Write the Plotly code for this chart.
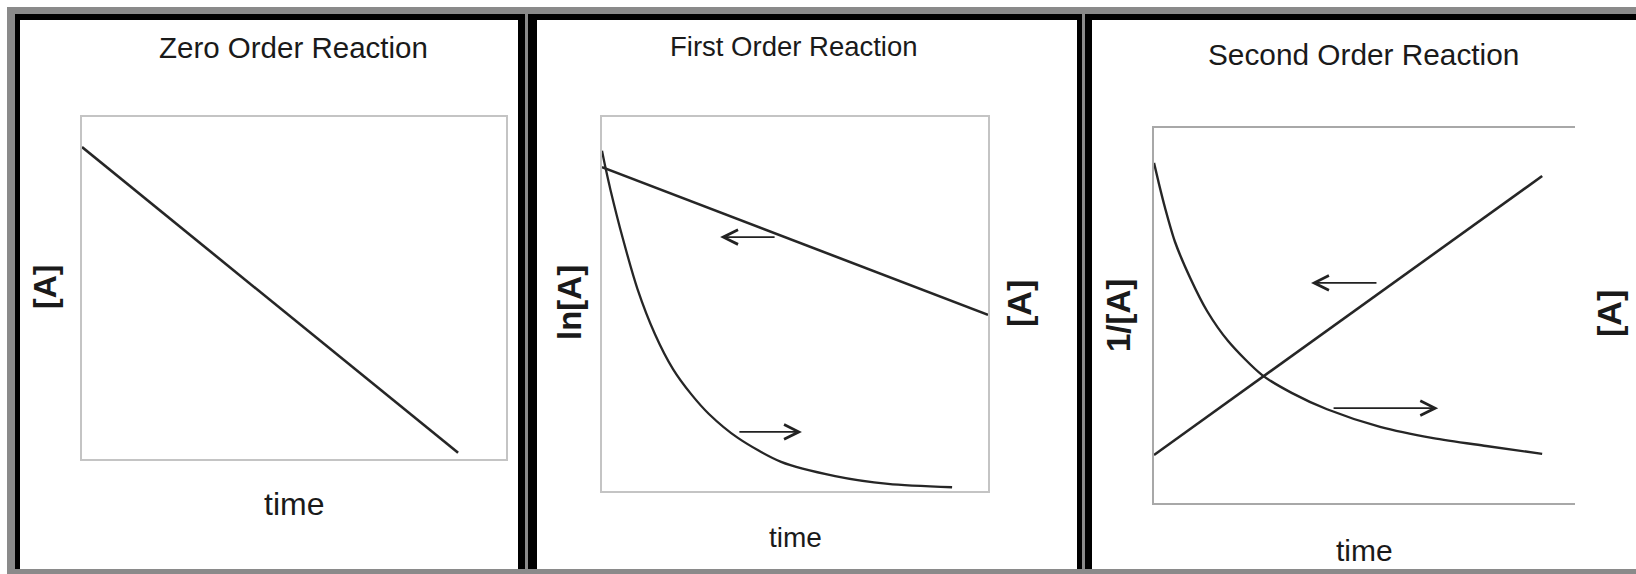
import plotly.graph_objects as go

W, H = 1636, 574

# ---------------- data ----------------
# Zero order: [A] vs time (straight line)
zero_time = [0.0, 8.87]
zero_conc = [9.12, 0.18]

# First order: ln[A] vs time (straight line) and [A] vs time (exponential decay)
first_ln_time = [0.0, 10.0]
first_ln_vals = [8.66, 4.71]
first_conc_time = [0.0, 0.1, 0.22, 0.54, 0.92, 1.37, 1.84, 2.31, 2.77, 3.52, 4.64, 6.04, 7.41, 9.07]
first_conc_vals = [9.10, 8.60, 8.05, 6.75, 5.40, 4.20, 3.26, 2.59, 2.06, 1.42, 0.78, 0.40, 0.19, 0.10]

# Second order: 1/[A] vs time (straight line) and [A] vs time (hyperbolic decay)
second_inv_time = [0.0, 9.22]
second_inv_vals = [1.28, 8.72]
second_conc_time = [0.0, 0.12, 0.26, 0.50, 0.86, 1.26, 1.76, 2.57, 3.28, 4.11, 5.37, 6.63, 7.89, 9.22]
second_conc_vals = [9.07, 8.50, 7.88, 6.96, 6.00, 5.12, 4.32, 3.41, 2.93, 2.50, 2.03, 1.73, 1.52, 1.31]

titles = ["Zero Order Reaction", "First Order Reaction", "Second Order Reaction"]
x_label = "time"
left_labels = ["[A]", "ln[A]", "1/[A]"]
right_labels = [None, "[A]", "[A]"]

FONT = "Liberation Sans, Arial, sans-serif"
INK = "#1a1a1a"
LINE = "#262626"


def X(px):
    return px / W


def Y(py):
    return 1 - py / H


fig = go.Figure()

line_style = dict(color=LINE, width=2.6)
fig.add_trace(go.Scatter(x=zero_time, y=zero_conc, mode="lines", line=line_style,
                         xaxis="x", yaxis="y", showlegend=False, hoverinfo="skip"))
fig.add_trace(go.Scatter(x=first_ln_time, y=first_ln_vals, mode="lines", line=line_style,
                         xaxis="x2", yaxis="y2", showlegend=False, hoverinfo="skip"))
fig.add_trace(go.Scatter(x=first_conc_time, y=first_conc_vals, mode="lines",
                         line=dict(color=LINE, width=2.3, shape="spline", smoothing=0.8),
                         xaxis="x2", yaxis="y2", showlegend=False, hoverinfo="skip"))
fig.add_trace(go.Scatter(x=second_inv_time, y=second_inv_vals, mode="lines", line=line_style,
                         xaxis="x3", yaxis="y3", showlegend=False, hoverinfo="skip"))
fig.add_trace(go.Scatter(x=second_conc_time, y=second_conc_vals, mode="lines",
                         line=dict(color=LINE, width=2.4, shape="spline", smoothing=0.8),
                         xaxis="x3", yaxis="y3", showlegend=False, hoverinfo="skip"))

# plot boxes (pixel positions of the frames)
boxes = [
    (82, 506, 117, 459),
    (602, 988, 117, 491),
    (1154, 1575, 128, 503),
]

def ax_common(color):
    return dict(range=[0, 10], showgrid=False, zeroline=False, showticklabels=False,
                ticks="", showline=True, linecolor=color, linewidth=2, fixedrange=True)

layout_axes = {}
for i, (x0, x1, y0, y1) in enumerate(boxes):
    sfx = "" if i == 0 else str(i + 1)
    color = "#c4c4c4" if i < 2 else "#a8a8a8"
    xa = ax_common(color)
    ya = ax_common(color)
    xa.update(domain=[X(x0), X(x1)], anchor="y" + sfx, mirror=True)
    ya.update(domain=[Y(y1), Y(y0)], anchor="x" + sfx, mirror=(i < 2))
    layout_axes["xaxis" + sfx] = xa
    layout_axes["yaxis" + sfx] = ya

fig.update_layout(**layout_axes)

# ---------------- frames ----------------
shapes = []
def rect(x0, y0, x1, y1, color):
    shapes.append(dict(type="rect", xref="paper", yref="paper",
                       x0=X(x0), x1=X(x1), y0=Y(y1), y1=Y(y0),
                       fillcolor=color, line=dict(width=0), layer="below"))

rect(7, 7, 1700, 620, "#8a8a8a")
panels = [(15, 525, 20, 518), (528, 1082, 537, 1077), (1085, 1700, 1092, 1700)]
for bx0, bx1, ix0, ix1 in panels:
    rect(bx0, 14, bx1, 569, "#000000")
    rect(ix0, 20, ix1, 569, "#ffffff")

# ---------------- text ----------------
annotations = []
def text(s, px, py, size, angle=0, bold=False):
    annotations.append(dict(text=("<b>%s</b>" % s) if bold else s,
                            xref="paper", yref="paper", x=X(px), y=Y(py),
                            xanchor="center", yanchor="middle", showarrow=False,
                            textangle=angle, font=dict(family=FONT, size=size, color=INK)))

text(titles[0], 293, 48, 29.5)
text(titles[1], 794, 46, 27.5)
text(titles[2], 1363, 54, 29.8)

text(x_label, 294, 504, 32)
text(x_label, 795, 537, 28)
text(x_label, 1364, 550, 30)

text(left_labels[0], 45, 287, 32, -90, True)
text(left_labels[1], 569, 303, 33, -90, True)
text(right_labels[1], 1019, 304, 34, -90, True)
text(left_labels[2], 1118, 316, 33, -90, True)
text(right_labels[2], 1609, 314, 34, -90, True)

# direction arrows (which axis each curve belongs to)
def arrow(axis_sfx, x_head, x_tail, yv):
    annotations.append(dict(text="", xref="x" + axis_sfx, yref="y" + axis_sfx,
                            axref="x" + axis_sfx, ayref="y" + axis_sfx,
                            x=x_head, y=yv, ax=x_tail, ay=yv, showarrow=True,
                            arrowhead=5, arrowsize=1.7, arrowwidth=1.7,
                            arrowcolor="#222222", standoff=0, startstandoff=0))

arrow("2", 3.06, 4.51, 6.79)
arrow("2", 5.18, 3.52, 1.58)
arrow("3", 3.73, 5.32, 5.87)
arrow("3", 6.75, 4.23, 2.53)

fig.update_layout(width=W, height=H, margin=dict(l=0, r=0, t=0, b=0),
                  paper_bgcolor="white", plot_bgcolor="rgba(0,0,0,0)",
                  shapes=shapes, annotations=annotations, showlegend=False)

fig.write_html("out.html", config={"displayModeBar": False},
               post_script="document.body.style.margin='0';document.body.style.overflow='hidden';")
